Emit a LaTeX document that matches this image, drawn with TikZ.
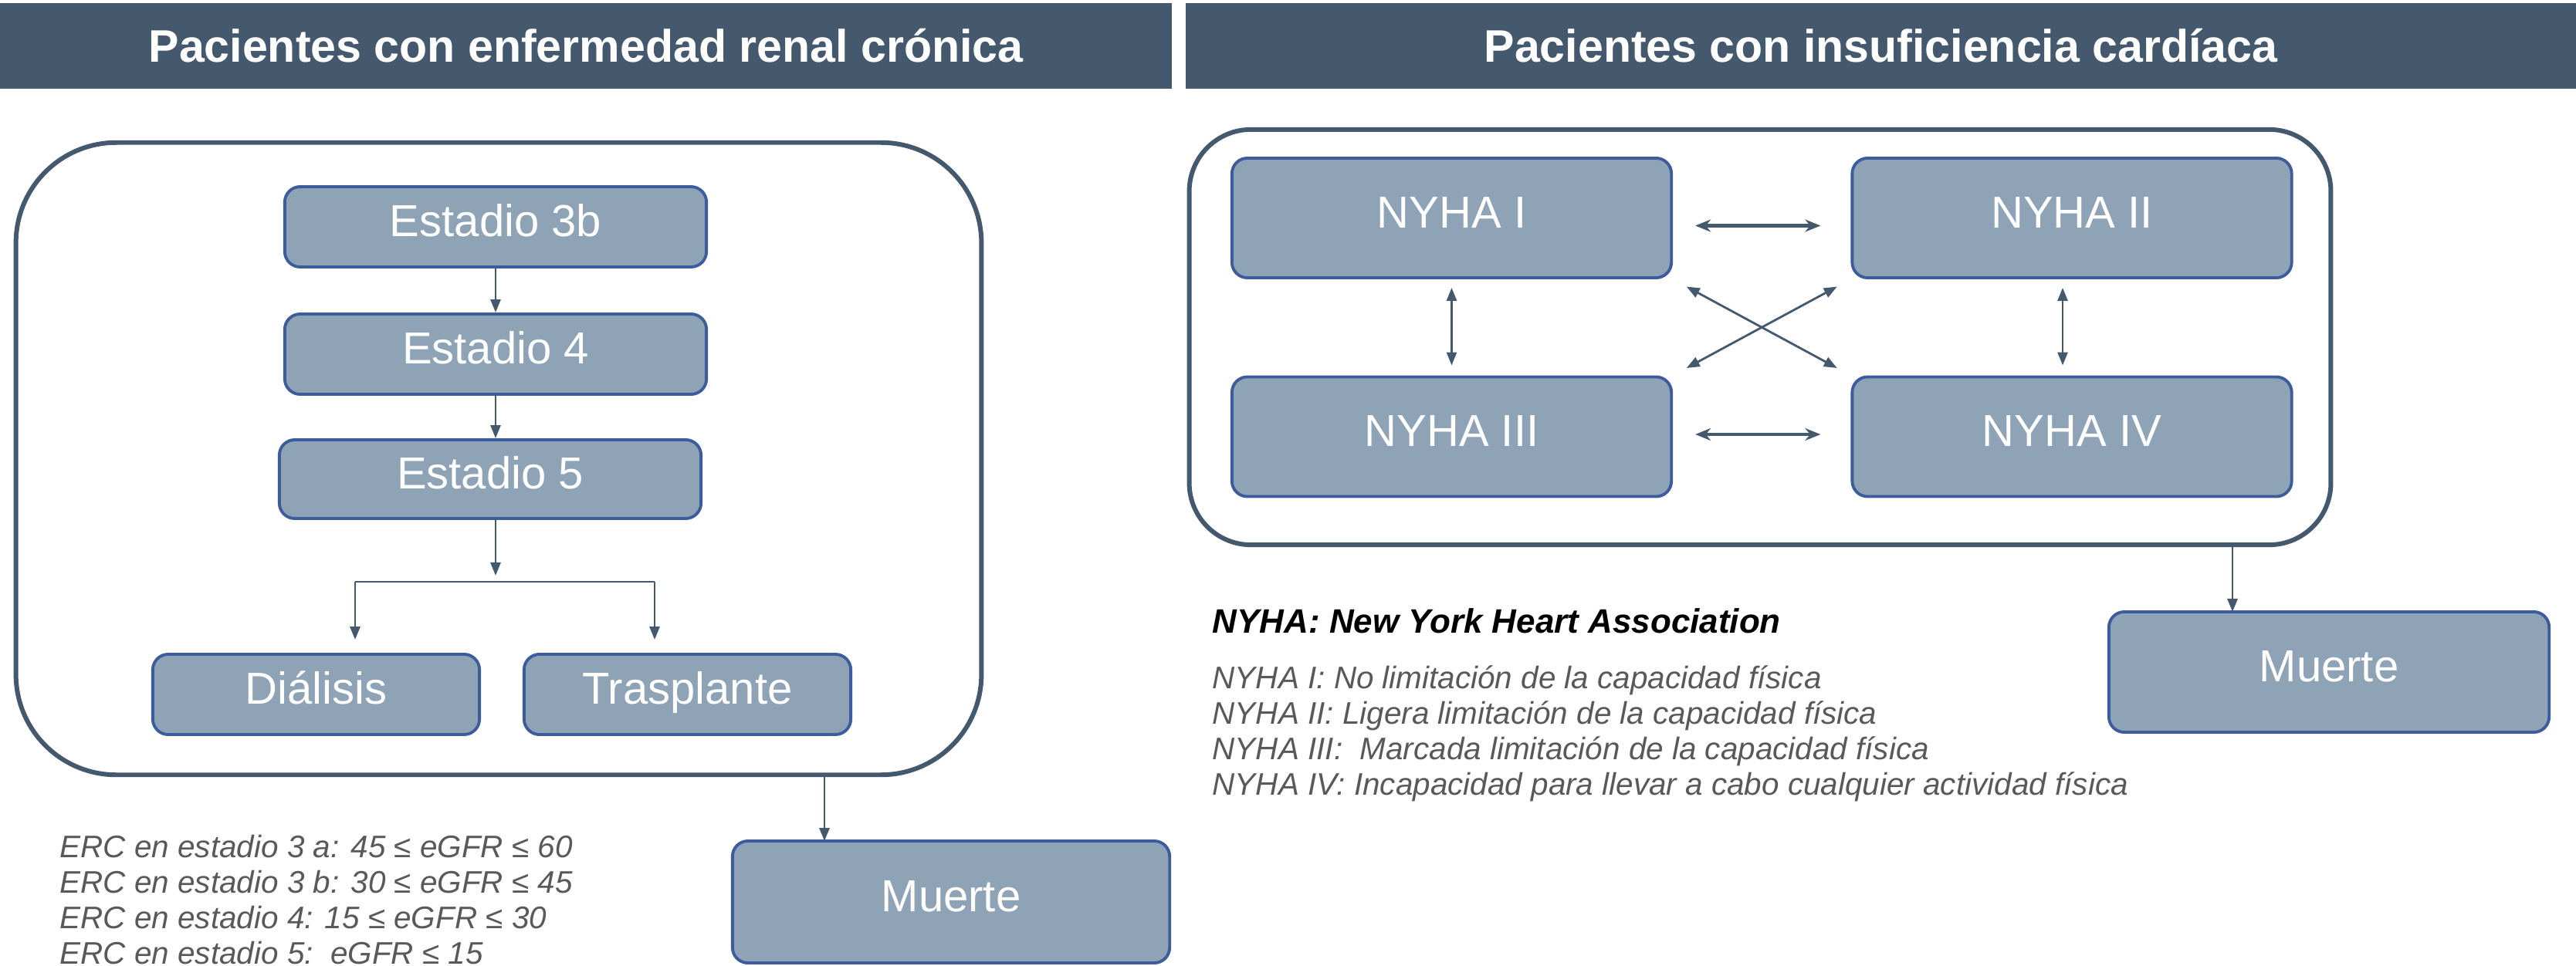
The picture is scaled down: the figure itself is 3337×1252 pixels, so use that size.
\documentclass[tikz,border=0pt]{standalone}
\usepackage{fontspec}
\setmainfont{Liberation Sans}
\usetikzlibrary{arrows.meta}

\definecolor{slate}{HTML}{44596E}
\definecolor{boxfill}{HTML}{8EA3B6}
\definecolor{boxline}{HTML}{3D5C9C}
\definecolor{notegray}{HTML}{595959}

\tikzset{
  header/.style={fill=slate,text=white,font=\bfseries\fontsize{16.8}{20}\selectfont,inner sep=0pt},
  container/.style={draw=slate,line width=1.7pt,rounded corners=1.3cm},
  stage/.style={draw=boxline,line width=1.1pt,fill=boxfill,rounded corners=0.2cm,
    text=white,font=\fontsize{16.5}{20}\selectfont,inner sep=0pt,text height=0.72em,text depth=0pt},
  arr/.style={draw=slate,line width=0.8pt,-{Triangle[length=0.17cm,width=0.13cm]}},
  darr/.style={draw=slate,line width=0.8pt,{Triangle[length=0.17cm,width=0.13cm]}-{Triangle[length=0.17cm,width=0.13cm]}},
  harr/.style={draw=slate,line width=1.3pt,{Stealth[length=0.2cm,width=0.16cm]}-{Stealth[length=0.2cm,width=0.16cm]}},
  note/.style={anchor=west,text=notegray,font=\itshape\fontsize{11.5}{14}\selectfont,inner sep=0pt}
}

\begin{document}
\begin{tikzpicture}[x=0.01cm,y=-0.01cm]
    \useasboundingbox (0,0) rectangle (3337,1252);
    % headers
    \node[header,minimum width=15.18cm,minimum height=1.11cm] (hdrerc) at (759,59.5) {Pacientes con enfermedad renal crónica};
    \node[header,minimum width=18.01cm,minimum height=1.11cm] (hdric) at (2436.5,59.5) {Pacientes con insuficiencia cardíaca};

    % renal
    \node[container,minimum width=12.5cm,minimum height=8.19cm] (erc) at (646,594.5) {};
    \node[stage,minimum width=5.46cm,minimum height=1.04cm] (e3b) at (642,294) {Estadio 3b};
    \node[stage,minimum width=5.46cm,minimum height=1.04cm] (e4) at (642,459) {Estadio 4};
    \node[stage,minimum width=5.46cm,minimum height=1.02cm] (e5) at (635,621) {Estadio 5};
    \node[stage,minimum width=4.23cm,minimum height=1.04cm] (dial) at (409.5,900) {Diálisis};
    \node[stage,minimum width=4.23cm,minimum height=1.04cm] (trasp) at (890.5,900) {Trasplante};
    \node[stage,minimum width=5.66cm,minimum height=1.58cm] (muerte1) at (1232,1169) {Muerte};
    \coordinate (split) at (642,746);
    \coordinate (splitL) at (460,754);
    \coordinate (splitR) at (848,754);
    \coordinate (m1in) at (1068,1090);
    \draw[arr] (e3b) -- (e4);
    \draw[arr] (e4) -- (e4 |- e5.north);
    \draw[arr] (e5.south -| split) -- (split);
    \draw[slate,line width=0.8pt] (splitL) -- (splitR);
    \draw[arr,shorten >=0.17cm] (splitL) -- (splitL |- dial.north);
    \draw[arr,shorten >=0.17cm] (splitR) -- (splitR |- trasp.north);
    \draw[arr] (erc.south -| m1in) -- (m1in);
    \foreach \t [count=\i] in {ERC en estadio 3 a: 45 ≤ eGFR ≤ 60,ERC en estadio 3 b: 30 ≤ eGFR ≤ 45,
        ERC en estadio 4: 15 ≤ eGFR ≤ 30,ERC en estadio 5:\ \ eGFR ≤ 15}
      \node[note] (erc\i) at (77,1051+46*\i) {\t};

    % cardiac
    \node[container,rounded corners=0.8cm,minimum width=14.78cm,minimum height=5.38cm] (ic) at (2280,437) {};
    \node[stage,minimum width=5.69cm,minimum height=1.55cm] (ny1) at (1880.5,282.5) {NYHA I};
    \node[stage,minimum width=5.69cm,minimum height=1.55cm] (ny2) at (2684,282.5) {NYHA II};
    \node[stage,minimum width=5.69cm,minimum height=1.55cm] (ny3) at (1880.5,566) {NYHA III};
    \node[stage,minimum width=5.69cm,minimum height=1.55cm] (ny4) at (2684,566) {NYHA IV};
    \node[stage,minimum width=5.7cm,minimum height=1.56cm] (muerte2) at (3017,871) {Muerte};
    \coordinate (m2in) at (2892,793);
    \draw[harr,shorten <=0.29cm,shorten >=0.39cm] ([yshift=-0.1cm]ny1.east) -- ([yshift=-0.1cm]ny2.west);
    \draw[harr,shorten <=0.29cm,shorten >=0.39cm] ([yshift=0.03cm]ny3.east) -- ([yshift=0.03cm]ny4.west);
    \draw[darr,shorten <=0.11cm,shorten >=0.13cm] (ny1) -- (ny3);
    \draw[darr,shorten <=0.11cm,shorten >=0.13cm] ([xshift=-0.12cm]ny2.south) -- ([xshift=-0.12cm]ny4.north);
    \draw[darr,shorten <=0.2cm,shorten >=0.2cm] (ny1.south east) -- (ny4.north west);
    \draw[darr,shorten <=0.2cm,shorten >=0.2cm] (ny2.south west) -- (ny3.north east);
    \draw[arr] (ic.south -| m2in) -- (m2in);
    \node[anchor=west,inner sep=0pt,font=\bfseries\itshape\fontsize{12.5}{15}\selectfont] (nyha) at (1570,805) {NYHA: New York Heart Association};
    \foreach \t [count=\i] in {NYHA I: No limitación de la capacidad física,NYHA II: Ligera limitación de la capacidad física,
        NYHA III:\ \ Marcada limitación de la capacidad física,NYHA IV: Incapacidad para llevar a cabo cualquier actividad física}
      \node[note] (nyha\i) at (1570,836+46*\i) {\t};
\end{tikzpicture}
\end{document}
